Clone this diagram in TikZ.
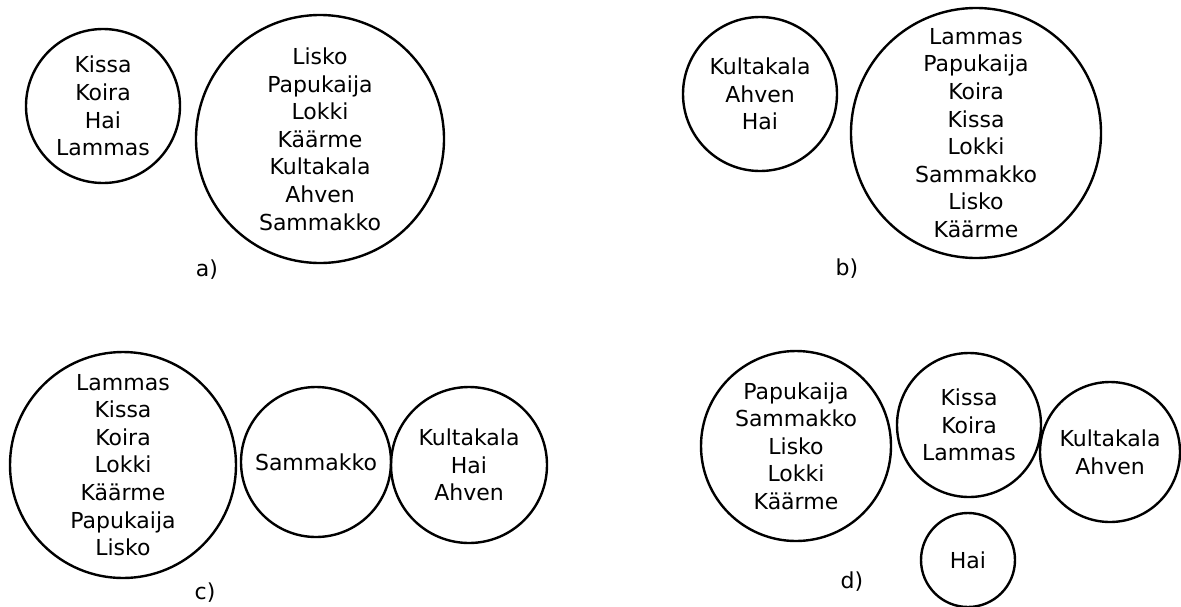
\documentclass[tikz,border=0pt]{standalone}
\usepackage{fontspec}
\setmainfont{DejaVu Sans}
\tikzset{
  bubble/.style={draw,circle,line width=2.4pt,inner sep=0pt,align=center,
    font=\fontsize{22}{27.6}\selectfont},
  caselabel/.style={font=\fontsize{22}{27.6}\selectfont}
}
\begin{document}
\begin{tikzpicture}[x=1pt,y=-1pt]
  \useasboundingbox (0,0) rectangle (1181,606);
  \node[bubble,minimum size=154] (aSmall) at (103,106) {Kissa\\Koira\\Hai\\Lammas};
  \node[bubble,minimum size=248] (aBig) at (320,139) {Lisko\\Papukaija\\Lokki\\Käärme\\Kultakala\\Ahven\\Sammakko};
  \node[bubble,minimum size=154] (bSmall) at (760,94) {Kultakala\\Ahven\\Hai};
  \node[bubble,minimum size=250] (bBig) at (976,133) {Lammas\\Papukaija\\Koira\\Kissa\\Lokki\\Sammakko\\Lisko\\Käärme};
  \node[bubble,minimum size=226] (cBig) at (123,465) {Lammas\\Kissa\\Koira\\Lokki\\Käärme\\Papukaija\\Lisko};
  \node[bubble,minimum size=150] (cMid) at (316,462) {Sammakko};
  \node[bubble,minimum size=156] (cRight) at (469,465) {Kultakala\\Hai\\Ahven};
  \node[bubble,minimum size=190] (dBig) at (796,446) {Papukaija\\Sammakko\\Lisko\\Lokki\\Käärme};
  \node[bubble,minimum size=144] (dMid) at (969,425) {Kissa\\Koira\\Lammas};
  \node[bubble,minimum size=140] (dRight) at (1110,452) {Kultakala\\Ahven};
  \node[bubble,minimum size=94] (dHai) at (968,560) {Hai};
  \foreach \lab/\x/\y in {a/207/270, b/847/269, c/205/593, d/852/582} {
    \node[caselabel] (lab\lab) at (\x,\y) {\lab)};
  }
\end{tikzpicture}
\end{document}
